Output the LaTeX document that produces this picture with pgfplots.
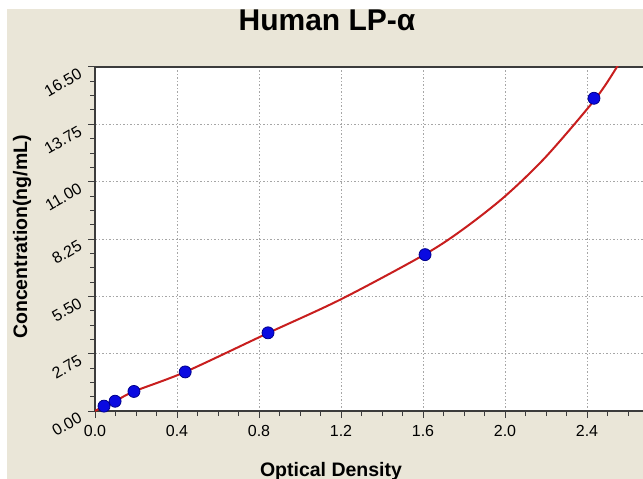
\documentclass[border=0pt]{standalone}
\usepackage{pgfplots}
\pgfplotsset{compat=1.18}
\usepackage{fontspec}
\setmainfont{Liberation Sans}
\definecolor{bgbeige}{RGB}{234,230,216}
\definecolor{curvered}{RGB}{200,30,30}
\definecolor{ptblue}{RGB}{10,10,225}
\definecolor{ptedge}{RGB}{0,0,140}
\definecolor{axisdark}{RGB}{60,60,60}
\begin{document}
\begin{tikzpicture}[x=1bp,y=1bp]
\path[use as bounding box] (0,0) rectangle (643,-479);
\clip (0,0) rectangle (643,-479);
\fill[white] (0,0) rectangle (643,-479);
\fill[bgbeige] (7,-9) rectangle (643,-479);
\begin{axis}[
  at={(95bp,-411bp)}, anchor=south west,
  scale only axis, width=574bp, height=344bp,
  xmin=0, xmax=2.8, ymin=0, ymax=16.5,
  axis background/.style={fill=white},
  axis line style={axisdark, line width=1.3bp},
  xtick={0,0.4,0.8,1.2,1.6,2.0,2.4},
  xticklabels={0.0,0.4,0.8,1.2,1.6,2.0,2.4},
  ytick={0,2.75,5.5,8.25,11,13.75,16.5},
  yticklabels={0.00,2.75,5.50,8.25,11.00,13.75,16.50},
  minor xtick={0.1,0.2,0.3,0.5,0.6,0.7,0.9,1.0,1.1,1.3,1.4,1.5,1.7,1.8,1.9,2.1,2.2,2.3,2.5,2.6,2.7},
  minor y tick num=3,
  tick align=outside, xtick pos=bottom, ytick pos=left,
  major tick length=7bp, minor tick length=5bp,
  tick style={axisdark, line width=1bp},
  grid=major,
  major grid style={gray!70, line width=0.6bp, dash pattern=on 1.5bp off 2bp},
  xticklabel style={font=\fontsize{16bp}{18bp}\selectfont, yshift=-4bp},
  yticklabel style={font=\fontsize{16bp}{18bp}\selectfont, rotate=30, anchor=east, xshift=-6bp, yshift=-1bp},
  clip=true,
]
\addplot[curvered, line width=2bp, smooth, no marks] coordinates {
  (0,0) (0.044,0.234) (0.098,0.469) (0.19,0.938) (0.44,1.875) (0.84,3.72)
  (1.2,5.36) (1.61,7.52) (1.8,8.75) (2.0,10.3) (2.2,12.2) (2.44,14.96) (2.546,16.5) (2.56,16.75)
};
\addplot[only marks, mark=*, mark size=6bp, mark options={fill=ptblue, draw=ptedge, line width=0.8bp}] coordinates {
  (0.044,0.234) (0.098,0.469) (0.19,0.938) (0.44,1.875) (0.844,3.75) (1.61,7.5) (2.434,15.0)
};
\end{axis}
\node[anchor=base, font=\fontsize{30bp}{34bp}\selectfont\bfseries] at (327,-31) {Human LP-α};
\node[anchor=base, font=\fontsize{19.5bp}{22bp}\selectfont\bfseries] at (331,-476) {Optical Density};
\node[anchor=base, rotate=90, font=\fontsize{19.5bp}{22bp}\selectfont\bfseries] at (27,-237) {Concentration(ng/mL)};
\end{tikzpicture}
\end{document}
